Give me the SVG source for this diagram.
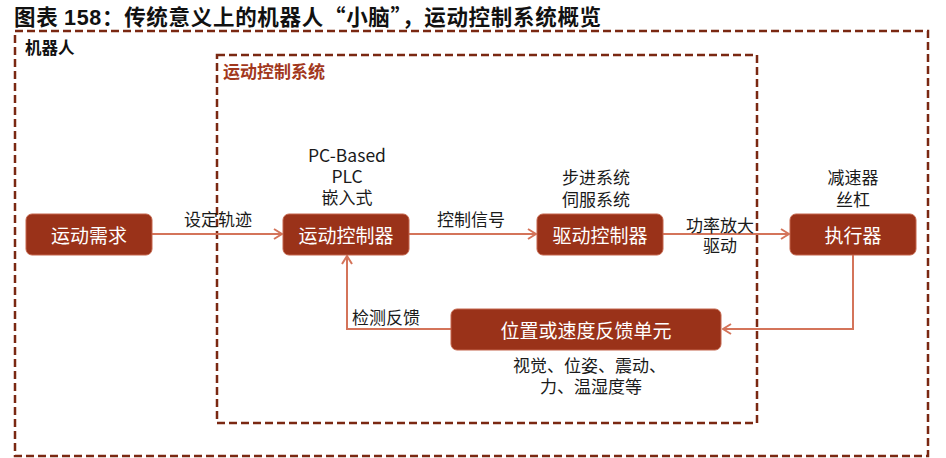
<svg xmlns="http://www.w3.org/2000/svg" width="946" height="458" viewBox="0 0 946 458">
<defs>
<style>
.title{font-family:"Noto Sans CJK SC","Liberation Sans",sans-serif;font-weight:bold;font-size:21.5px;letter-spacing:0.7px;fill:#111}
.lat{font-family:"Liberation Sans","Noto Sans CJK SC",sans-serif}
.frame{fill:none;stroke:#7a2812;stroke-width:2.5;stroke-dasharray:8 4}
.node rect{fill:#9a3219;stroke:#c4654c;stroke-width:1}
.node text{font-family:"Noto Sans CJK SC",sans-serif;font-size:19px;fill:#fff;text-anchor:middle}
.node text.lbl{fill:#1a1a1a;font-size:17px}
.lbl{font-family:"Liberation Sans","Noto Sans CJK SC",sans-serif;font-size:17px;fill:#1a1a1a}
.mid{text-anchor:middle}
.node text.st{text-anchor:start}
.conn{fill:none;stroke:#d4745a;stroke-width:2}
</style>
<marker id="arr" viewBox="0 0 10 12" refX="9" refY="6" markerWidth="10" markerHeight="12" markerUnits="userSpaceOnUse" orient="auto">
<path d="M1,1 L9,6 L1,11" fill="none" stroke="#d4745a" stroke-width="2"/>
</marker>
</defs>
<rect width="946" height="458" fill="#fff"/>
<text class="title" x="14" y="25">图表 <tspan class="lat">158</tspan>：传统意义上的机器人“小脑”，运动控制系统概览</text>

<g id="frame-robot">
<rect class="frame" x="15" y="31" width="913" height="425"/>
<text x="25" y="54" style="font-family:'Noto Sans CJK SC',sans-serif;font-weight:bold;font-size:16.5px;fill:#111">机器人</text>
</g>
<g id="frame-motion">
<rect class="frame" x="217" y="55" width="540" height="368"/>
<text x="223" y="78" style="font-family:'Noto Sans CJK SC',sans-serif;font-weight:bold;font-size:17px;fill:#a2381d">运动控制系统</text>
</g>

<g id="connectors">
<line class="conn" x1="152" y1="234" x2="282" y2="234" marker-end="url(#arr)"/>
<line class="conn" x1="409" y1="234" x2="536" y2="234" marker-end="url(#arr)"/>
<line class="conn" x1="663" y1="234" x2="789" y2="234" marker-end="url(#arr)"/>
<polyline class="conn" points="853,255 853,329 723,329" marker-end="url(#arr)"/>
<polyline class="conn" points="451,329 347,329 347,256" marker-end="url(#arr)"/>
<text class="lbl mid" x="218" y="225.5">设定轨迹</text>
<text class="lbl mid" x="471" y="225.5">控制信号</text>
<text class="lbl mid" x="720" y="231.5">功率放大</text>
<text class="lbl mid" x="720" y="251.5">驱动</text>
<text class="lbl" x="352" y="323.5">检测反馈</text>
</g>

<g id="node-demand" class="node">
<rect x="26" y="214" width="126" height="41" rx="6"/>
<text x="89" y="242.5">运动需求</text>
</g>
<g id="node-controller" class="node">
<rect x="283" y="214" width="126" height="41" rx="6"/>
<text x="346" y="242.5">运动控制器</text>
<text class="lbl mid" x="347" y="161.5" style="font-size:17.5px">PC-Based</text>
<text class="lbl mid" x="347" y="183" style="font-size:17.5px">PLC</text>
<text class="lbl mid" x="347" y="203.5">嵌入式</text>
</g>
<g id="node-driver" class="node">
<rect x="537" y="214" width="126" height="41" rx="6"/>
<text x="600" y="242.5">驱动控制器</text>
<text class="lbl mid" x="596" y="184">步进系统</text>
<text class="lbl mid" x="596" y="205.5">伺服系统</text>
</g>
<g id="node-actuator" class="node">
<rect x="790" y="214" width="126" height="41" rx="6"/>
<text x="853" y="242.5">执行器</text>
<text class="lbl mid" x="853" y="184">减速器</text>
<text class="lbl mid" x="853" y="205.5">丝杠</text>
</g>
<g id="node-feedback" class="node">
<rect x="451" y="309" width="270" height="41" rx="6"/>
<text x="586" y="337.5">位置或速度反馈单元</text>
<text class="lbl st" x="513" y="371.5">视觉、位姿、震动、</text>
<text class="lbl st" x="540" y="392.5">力、温湿度等</text>
</g>
</svg>
